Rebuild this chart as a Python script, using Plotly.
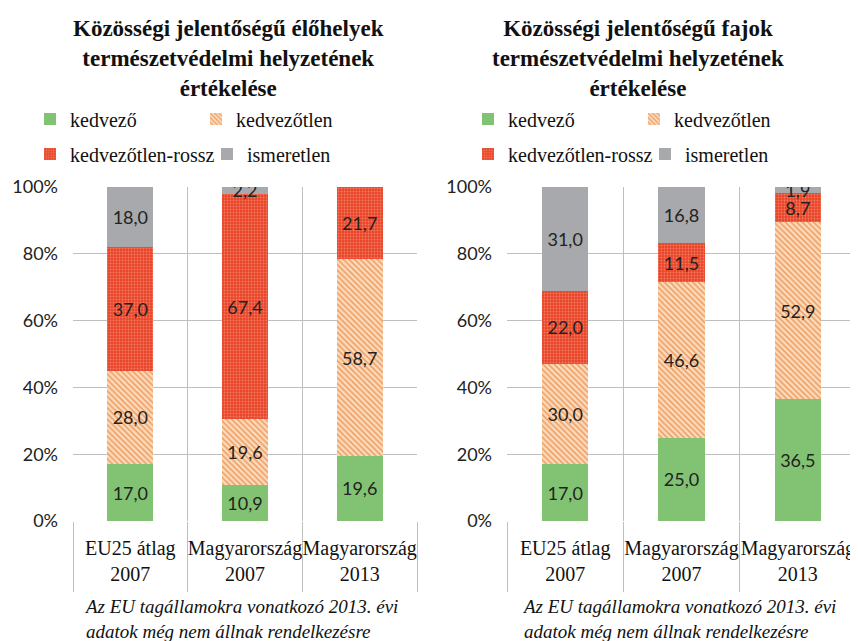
import plotly.graph_objects as go

categories = ["EU25 átlag<br>2007", "Magyarország<br>2007", "Magyarország<br>2013"]
series_names = ["kedvező", "kedvezőtlen", "kedvezőtlen-rossz", "ismeretlen"]

habitat_kedvezo = [17.0, 10.9, 19.6]
habitat_kedvezotlen = [28.0, 19.6, 58.7]
habitat_rossz = [37.0, 67.4, 21.7]
habitat_ismeretlen = [18.0, 2.2, None]

species_kedvezo = [17.0, 25.0, 36.5]
species_kedvezotlen = [30.0, 46.6, 52.9]
species_rossz = [22.0, 11.5, 8.7]
species_ismeretlen = [31.0, 16.8, 1.9]

y_tick_values = [0, 20, 40, 60, 80, 100]
y_tick_labels = ["0%", "20%", "40%", "60%", "80%", "100%"]

title_left = "Közösségi jelentőségű élőhelyek<br>természetvédelmi helyzetének<br>értékelése"
title_right = "Közösségi jelentőségű fajok<br>természetvédelmi helyzetének<br>értékelése"
footnote = "Az EU tagállamokra vonatkozó 2013. évi<br>adatok még nem állnak rendelkezésre"

SERIF = "Liberation Serif"
SANS = "Lato"

styles = [
    dict(color="#82C373", pattern=None),
    dict(color="#F7C395", pattern=dict(shape="\\", fgcolor="#F0A066", bgcolor="#FBDDBF",
                                       size=4, solidity=0.45, fillmode="replace")),
    dict(color="#EA4A2C", pattern=dict(shape=".", fgcolor="#F37C60", bgcolor="#E9452A",
                                       size=3, solidity=0.3, fillmode="replace")),
    dict(color="#A7A9AC", pattern=None),
]

fig = go.Figure()

panels = [
    ("x", "y", [habitat_kedvezo, habitat_kedvezotlen, habitat_rossz, habitat_ismeretlen],
     ["legend", "legend", "legend2", "legend2"]),
    ("x2", "y2", [species_kedvezo, species_kedvezotlen, species_rossz, species_ismeretlen],
     ["legend3", "legend3", "legend4", "legend4"]),
]

for xa, ya, series, legends in panels:
    for name, vals, st, lg in zip(series_names, series, styles, legends):
        marker = dict(color=st["color"], line=dict(width=0))
        if st["pattern"]:
            marker["pattern"] = st["pattern"]
        fig.add_trace(go.Bar(
            x=categories, y=vals, name=name, xaxis=xa, yaxis=ya,
            marker=marker, legend=lg,
            texttemplate="%{y:.1f}", textposition="inside",
            insidetextanchor="middle",
            textfont=dict(family=SANS, size=18, color="#222222"),
            hoverinfo="skip",
        ))

xcommon = dict(
    type="category", tickson="boundaries", showgrid=True, gridcolor="#BFBFBF",
    gridwidth=1, ticks="outside", ticklen=70, tickcolor="#BFBFBF", tickwidth=1,
    tickfont=dict(family=SERIF, size=20, color="#111111"), tickangle=0,
    ticklabelstandoff=13, showline=False, zeroline=False, fixedrange=True,
    automargin=False,
)
ycommon = dict(
    range=[0, 100], tickmode="array", tickvals=y_tick_values, ticktext=y_tick_labels,
    showgrid=True, gridcolor="#BFBFBF", gridwidth=1, zeroline=False, showline=False,
    tickfont=dict(family=SANS, size=18, color="#222222"), ticks="",
    ticklabelstandoff=14, fixedrange=True, automargin=False,
)

# the page body adds an 8px offset; positions below are given in window pixels
OFF = 8
W, H = 858 - OFF, 641 - OFF
def fx(px):
    return (px - OFF) / W
def fy(py):
    return 1 - (py - OFF) / H

fig.update_layout(
    width=W, height=H, barmode="stack", bargap=0.6,
    margin=dict(l=0, r=0, t=0, b=0, autoexpand=False),
    paper_bgcolor="white", plot_bgcolor="white",
    separators=", ",
    uniformtext=dict(minsize=18, mode="show"),
    xaxis=dict(domain=[fx(73), fx(417)], anchor="y", **xcommon),
    yaxis=dict(domain=[fy(521), fy(187)], anchor="x", **ycommon),
    xaxis2=dict(domain=[fx(507), fx(856)], anchor="y2", **xcommon),
    yaxis2=dict(domain=[fy(521), fy(187)], anchor="x2", **ycommon),
    font=dict(family=SERIF, color="#111111"),
)

legend_common = dict(orientation="h", font=dict(family=SERIF, size=20, color="#111111"),
                     bgcolor="rgba(0,0,0,0)", entrywidthmode="pixels",
                     xanchor="left", yanchor="middle", traceorder="normal",
                     itemclick=False, itemdoubleclick=False)
fig.update_layout(
    legend=dict(x=fx(30), y=fy(119), entrywidth=121, **legend_common),
    legend2=dict(x=fx(30), y=fy(154), entrywidth=132, **legend_common),
    legend3=dict(x=fx(468), y=fy(119), entrywidth=121, **legend_common),
    legend4=dict(x=fx(468), y=fy(154), entrywidth=132, **legend_common),
)

for xc, txt in [(228, title_left), (638, title_right)]:
    fig.add_annotation(x=fx(xc), y=fy(14), xref="paper", yref="paper",
                       xanchor="center", yanchor="top", showarrow=False,
                       text="<b>" + txt + "</b>", align="center",
                       font=dict(family=SERIF, size=23, color="#111111"))

for xl in [82, 520]:
    fig.add_annotation(x=fx(xl), y=fy(619), xref="paper", yref="paper",
                       xanchor="left", yanchor="middle", showarrow=False,
                       text="<i>" + footnote + "</i>", align="left",
                       font=dict(family=SERIF, size=19, color="#111111"))

fig.write_html("out.html")
